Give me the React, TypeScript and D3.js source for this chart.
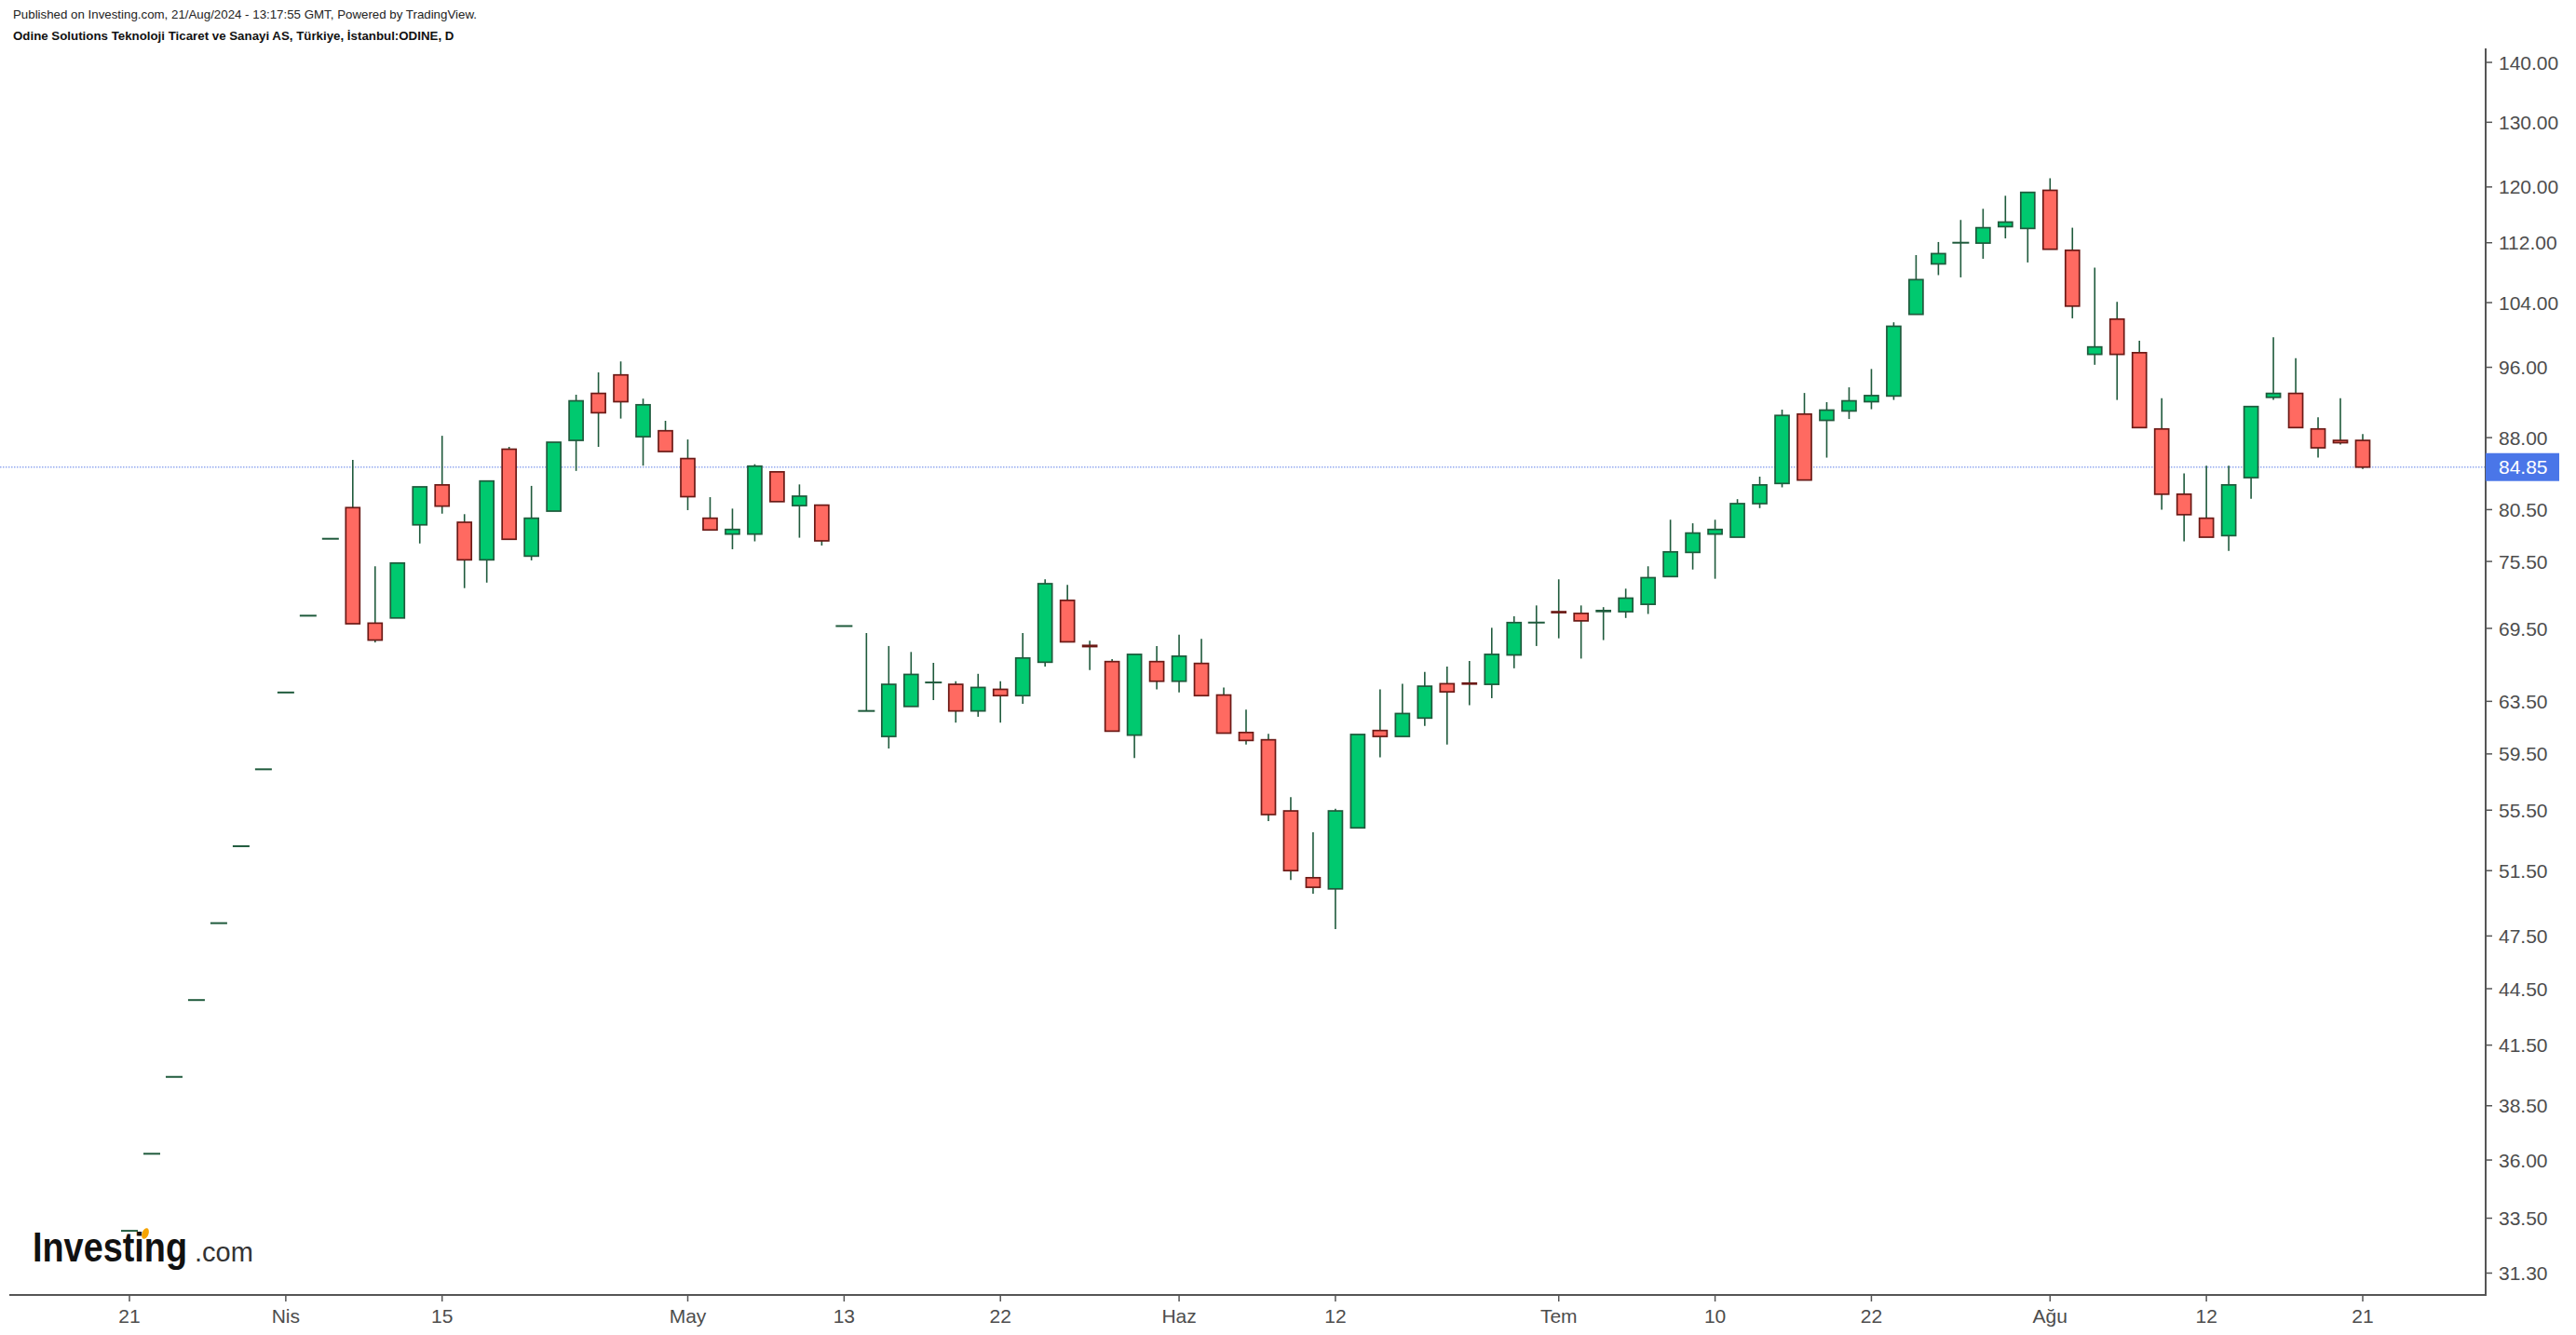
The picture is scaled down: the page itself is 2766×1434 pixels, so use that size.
import React from "react";
import * as d3 from "d3";

// trading days (Borsa Istanbul, holidays skipped)
const dates = [
  "2024-03-21", "2024-03-22", "2024-03-25", "2024-03-26", "2024-03-27", "2024-03-28", "2024-03-29",
  "2024-04-01", "2024-04-02", "2024-04-03", "2024-04-04", "2024-04-05", "2024-04-08", "2024-04-09",
  "2024-04-15", "2024-04-16", "2024-04-17", "2024-04-18", "2024-04-19", "2024-04-22", "2024-04-24",
  "2024-04-25", "2024-04-26", "2024-04-29", "2024-04-30", "2024-05-02", "2024-05-03", "2024-05-06",
  "2024-05-07", "2024-05-08", "2024-05-09", "2024-05-10", "2024-05-13", "2024-05-14", "2024-05-15",
  "2024-05-16", "2024-05-17", "2024-05-20", "2024-05-21", "2024-05-22", "2024-05-23", "2024-05-24",
  "2024-05-27", "2024-05-28", "2024-05-29", "2024-05-30", "2024-05-31", "2024-06-03", "2024-06-04",
  "2024-06-05", "2024-06-06", "2024-06-07", "2024-06-10", "2024-06-11", "2024-06-12", "2024-06-13",
  "2024-06-14", "2024-06-20", "2024-06-21", "2024-06-24", "2024-06-25", "2024-06-26", "2024-06-27",
  "2024-06-28", "2024-07-01", "2024-07-02", "2024-07-03", "2024-07-04", "2024-07-05", "2024-07-08",
  "2024-07-09", "2024-07-10", "2024-07-11", "2024-07-12", "2024-07-16", "2024-07-17", "2024-07-18",
  "2024-07-19", "2024-07-22", "2024-07-23", "2024-07-24", "2024-07-25", "2024-07-26", "2024-07-29",
  "2024-07-30", "2024-07-31", "2024-08-01", "2024-08-02", "2024-08-05", "2024-08-06", "2024-08-07",
  "2024-08-08", "2024-08-09", "2024-08-12", "2024-08-13", "2024-08-14", "2024-08-15", "2024-08-16",
  "2024-08-19", "2024-08-20", "2024-08-21",
];

const opens = [
  32.98, 36.28, 39.9, 43.88, 48.26, 53.08, 58.38, 64.2, 70.6, 77.65,
  80.7, 69.95, 70.4, 79.0, 83.0, 79.25, 75.65, 86.75, 76.0, 80.35,
  87.7, 92.95, 95.1, 88.1, 88.75, 85.75, 79.65, 78.1, 78.1, 84.35,
  80.9, 80.95, 69.7, 62.75, 60.8, 63.1, 65.0, 64.85, 62.75, 64.45,
  63.95, 66.65, 71.95, 68.05, 66.7, 60.9, 66.7, 65.1, 66.55, 64.0,
  61.1, 60.55, 55.45, 51.05, 50.35, 54.3, 61.25, 60.8, 62.2, 64.9,
  64.95, 64.85, 67.25, 70.0, 70.95, 70.8, 71.0, 70.95, 71.6, 74.1,
  76.35, 78.1, 77.8, 81.1, 83.15, 90.6, 89.9, 90.95, 92.0, 92.65,
  102.5, 109.1, 112.0, 111.95, 114.25, 114.0, 119.5, 110.95, 97.55, 101.9,
  97.75, 88.95, 82.05, 79.65, 77.95, 83.75, 92.5, 92.95, 88.95, 87.7,
  87.7,
];

const highs = [
  32.98, 36.28, 39.9, 43.88, 48.26, 53.08, 58.38, 64.2, 70.6, 77.65,
  85.6, 75.05, 75.35, 82.8, 88.2, 80.05, 83.4, 87.0, 82.9, 87.5,
  92.8, 95.4, 96.7, 92.35, 89.85, 87.8, 81.75, 80.6, 85.15, 84.35,
  83.05, 80.95, 69.7, 69.1, 68.0, 67.5, 66.6, 65.1, 65.7, 65.1,
  69.1, 73.85, 73.35, 68.45, 66.9, 67.3, 68.0, 68.95, 68.6, 64.6,
  62.85, 61.0, 56.4, 54.0, 55.6, 60.95, 64.45, 64.9, 65.85, 66.3,
  66.75, 69.55, 70.55, 71.5, 73.85, 71.5, 71.35, 73.0, 75.05, 79.5,
  79.15, 79.5, 81.55, 83.85, 91.1, 93.0, 91.95, 93.65, 95.8, 101.5,
  110.3, 112.1, 115.2, 116.8, 118.7, 119.2, 121.3, 114.1, 108.6, 104.1,
  99.2, 92.4, 84.2, 85.0, 85.0, 91.45, 99.65, 97.1, 90.25, 92.4,
  88.4,
];

const lows = [
  32.98, 36.28, 39.9, 43.88, 48.26, 53.08, 58.38, 64.2, 70.6, 77.65,
  69.9, 68.3, 70.4, 77.2, 80.1, 73.05, 73.55, 77.6, 75.6, 80.35,
  84.45, 87.0, 90.1, 85.0, 86.5, 80.45, 78.5, 76.65, 77.4, 81.3,
  77.75, 77.0, 69.7, 62.75, 59.9, 63.1, 63.6, 61.85, 62.3, 61.85,
  63.3, 66.3, 68.35, 66.0, 61.2, 59.2, 64.45, 64.2, 63.95, 61.05,
  60.2, 54.75, 50.9, 50.05, 47.9, 54.3, 59.25, 60.8, 61.6, 60.2,
  63.2, 63.75, 66.15, 68.0, 68.65, 66.95, 68.5, 70.4, 70.75, 74.1,
  74.75, 73.9, 77.8, 80.65, 82.75, 83.5, 85.85, 90.05, 91.15, 92.2,
  102.5, 107.6, 107.3, 109.8, 112.6, 109.3, 111.1, 102.0, 96.3, 92.2,
  89.1, 80.5, 77.4, 77.8, 76.5, 81.6, 92.2, 89.1, 85.85, 87.25,
  84.65,
];

const closes = [
  32.98, 36.28, 39.9, 43.88, 48.26, 53.08, 58.38, 64.2, 70.6, 77.65,
  69.9, 68.5, 75.35, 82.8, 80.85, 75.65, 83.4, 77.6, 79.65, 87.5,
  92.1, 90.75, 92.0, 91.65, 86.5, 81.8, 78.5, 78.55, 84.95, 81.3,
  81.85, 77.45, 69.7, 62.75, 64.85, 65.65, 65.0, 62.75, 64.6, 63.95,
  67.0, 73.45, 68.35, 67.95, 61.2, 67.3, 65.1, 67.15, 63.95, 61.05,
  60.5, 55.2, 51.5, 50.45, 55.45, 60.95, 60.8, 62.55, 64.7, 64.25,
  64.9, 67.3, 70.0, 70.0, 70.9, 70.15, 71.05, 72.15, 74.0, 76.4,
  78.2, 78.55, 81.1, 83.0, 90.45, 83.5, 91.05, 92.1, 92.7, 101.0,
  107.0, 110.5, 112.0, 114.1, 114.9, 119.2, 111.1, 103.55, 98.45, 97.55,
  89.1, 82.05, 80.0, 77.8, 83.0, 91.45, 92.95, 89.1, 86.9, 87.45,
  84.85,
];

const priceTicks = [31.3, 33.5, 36, 38.5, 41.5, 44.5, 47.5, 51.5, 55.5, 59.5, 63.5, 69.5, 75.5, 80.5, 88, 96, 104, 112, 120, 130, 140];

const dateTickDates = [
  "2024-03-21", "2024-04-01", "2024-04-15", "2024-05-02", "2024-05-13", "2024-05-22", "2024-06-03",
  "2024-06-12", "2024-07-01", "2024-07-10", "2024-07-22", "2024-08-01", "2024-08-12", "2024-08-21",
];
const dateTickLabels = ["21", "Nis", "15", "May", "13", "22", "Haz", "12", "Tem", "10", "22", "Ağu", "12", "21"];

const lastPrice = 84.85;

const UP_FILL = "#00c96f";
const UP_LINE = "#1f5a3c";
const DOWN_FILL = "#ff6a61";
const DOWN_LINE = "#6b1a16";
const AXIS = "#555555";
const FONT = "'Liberation Sans', Arial, sans-serif";

export default function App() {
  const width = 2766;
  const height = 1434;
  const axisX = 2669;
  const axisY = 1391;

  const x = d3.scalePoint<string>().domain(dates).range([139, 2537]);
  const y = d3.scaleLog().domain([31.3, 140]).range([1367.5, 67]);

  const bodyW = 15;

  const candles = dates.map((d, i) => {
    const cx = x(d) as number;
    const o = opens[i], h = highs[i], l = lows[i], c = closes[i];
    const up = c >= o;
    if (h === l) {
      // single price day: flat dash
      return (
        <line key={d} x1={cx - 9} x2={cx + 9} y1={y(c)} y2={y(c)} stroke={UP_LINE} strokeWidth={2} />
      );
    }
    const top = y(Math.max(o, c));
    const bot = y(Math.min(o, c));
    return (
      <g key={d}>
        <line x1={cx} x2={cx} y1={y(h)} y2={y(l)} stroke={UP_LINE} strokeWidth={1.6} />
        {o === c ? (
          <line x1={cx - 9} x2={cx + 9} y1={top} y2={top} stroke={UP_LINE} strokeWidth={2} />
        ) : (
          <rect
            x={cx - bodyW / 2}
            y={top}
            width={bodyW}
            height={Math.max(bot - top, 1)}
            fill={up ? UP_FILL : DOWN_FILL}
            stroke={up ? UP_LINE : DOWN_LINE}
            strokeWidth={1.7}
          />
        )}
      </g>
    );
  });

  const py = y(lastPrice);

  return (
    <div style={{ position: "absolute", left: 0, top: 0 }}>
      <svg width={width} height={height} style={{ display: "block", background: "#fff" }}>
        <rect width={width} height={height} fill="#fff" />

        {/* header */}
        <text x={14} y={20} fontFamily={FONT} fontSize={13.3} fill="#222">
          Published on Investing.com, 21/Aug/2024 - 13:17:55 GMT, Powered by TradingView.
        </text>
        <text x={14} y={43} fontFamily={FONT} fontSize={13.3} fontWeight="bold" fill="#111">
          Odine Solutions Teknoloji Ticaret ve Sanayi AS, Türkiye, İstanbul:ODINE, D
        </text>

        {/* last price line */}
        <line x1={0} x2={axisX} y1={py} y2={py} stroke="#93a9f0" strokeWidth={1.6} strokeDasharray="1.5 1.5" />

        {candles}

        {/* y axis */}
        <line x1={axisX} x2={axisX} y1={52} y2={axisY + 1} stroke={AXIS} strokeWidth={2} />
        {priceTicks.map((t) => (
          <g key={t}>
            <line x1={axisX} x2={axisX + 7} y1={y(t)} y2={y(t)} stroke={AXIS} strokeWidth={1.5} />
            <text x={axisX + 14} y={y(t)} dy="0.36em" fontFamily={FONT} fontSize={21} fill="#4d4d4d">
              {t.toFixed(2)}
            </text>
          </g>
        ))}
        <rect x={axisX} y={py - 15} width={79} height={30} fill="#4a76e8" />
        <text x={axisX + 14} y={py} dy="0.36em" fontFamily={FONT} fontSize={21} fill="#fff">
          {lastPrice.toFixed(2)}
        </text>

        {/* x axis */}
        <line x1={10} x2={axisX} y1={axisY} y2={axisY} stroke={AXIS} strokeWidth={2} />
        {dateTickDates.map((d, i) => {
          const tx = x(d) as number;
          return (
            <g key={d + i}>
              <line x1={tx} x2={tx} y1={axisY} y2={axisY + 7} stroke={AXIS} strokeWidth={1.5} />
              <text x={tx} y={axisY + 22} dy="0.36em" textAnchor="middle" fontFamily={FONT} fontSize={21} fill="#4d4d4d">
                {dateTickLabels[i]}
              </text>
            </g>
          );
        })}

        {/* logo */}
        <text transform="translate(35,1355) scale(0.86,1)" fontFamily={FONT} fontSize={44} fontWeight="bold" fill="#111">
          Investing
        </text>
        <ellipse cx={156} cy={1325} rx={3.5} ry={6} fill="#f5a300" transform="rotate(20 156 1325)" />
        <text x={209} y={1355} fontFamily={FONT} fontSize={29} fill="#333">
          .com
        </text>
      </svg>
    </div>
  );
}
